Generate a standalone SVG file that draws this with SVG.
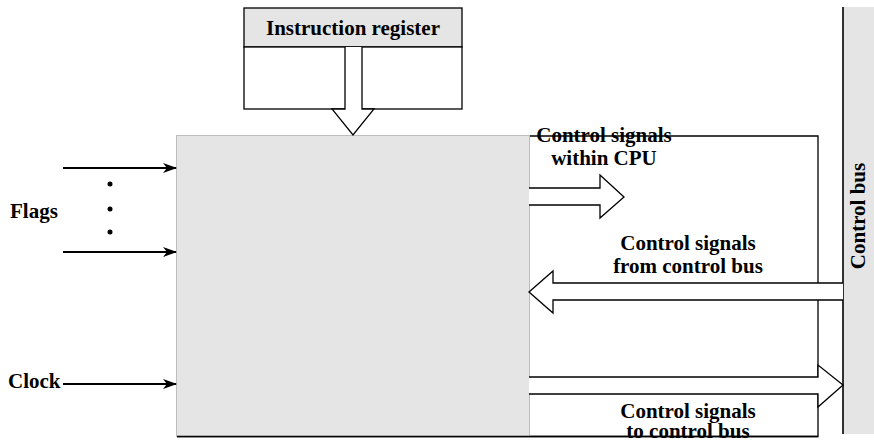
<svg xmlns="http://www.w3.org/2000/svg" width="874" height="441" viewBox="0 0 874 441">
<style>
.t{font-family:"Liberation Serif","Times New Roman",serif;font-weight:bold;font-size:21px;fill:#000}
.ln{stroke:#000;stroke-width:1.3;fill:none}
.fat{stroke:#000;stroke-width:1.3;fill:#fff}
.thin{stroke:#000;stroke-width:2.2;fill:none}
</style>
<defs>
<marker id="ah" markerWidth="14" markerHeight="10" refX="13" refY="5" orient="auto" markerUnits="userSpaceOnUse">
<path d="M0,0 L14,5 L0,10 L4,5 Z" fill="#000"/>
</marker>
</defs>
<g id="outline">
<path class="ln" d="M529,136 H818 V436.5 H177"/>
</g>
<g id="control-unit">
<rect x="176.5" y="135.5" width="353" height="301" fill="#e5e5e5" stroke="#bdbdbd" stroke-width="1"/>
<line x1="177" y1="436.5" x2="818" y2="436.5" stroke="#000" stroke-width="1.3"/>
</g>
<g id="instruction-register">
<rect x="244" y="8" width="218" height="39" fill="#e5e5e5" stroke="#000" stroke-width="1.3"/>
<rect x="244" y="47" width="218" height="62" fill="#fff" stroke="#000" stroke-width="1.3"/>
<text class="t" x="353" y="35" text-anchor="middle">Instruction register</text>
</g>
<g id="control-bus">
<rect x="843" y="7" width="31" height="427" fill="#e5e5e5"/>
<line x1="843" y1="7" x2="843" y2="434" stroke="#000" stroke-width="1.6"/>
<text class="t" transform="translate(865,216) rotate(-90)" text-anchor="middle">Control bus</text>
</g>
<g id="connectors">
<path class="fat" d="M345,47 V109 H332 L353,135 L374,109 H362 V47"/>
<path class="fat" d="M529,188 H600 V175 L624,197 L600,218 V205 H529"/>
<path class="fat" d="M843,283 H553 V271 L529,292 L553,313 V300 H843"/>
<path class="fat" d="M529,377 H818 V365 L843,385 L818,407 V394 H529"/>
<line class="thin" x1="63" y1="168" x2="176" y2="168" marker-end="url(#ah)"/>
<line class="thin" x1="63" y1="252" x2="176" y2="252" marker-end="url(#ah)"/>
<line class="thin" x1="63" y1="384" x2="176" y2="384" marker-end="url(#ah)"/>
<circle cx="110" cy="184" r="2.5" fill="#000"/>
<circle cx="110" cy="209" r="2.5" fill="#000"/>
<circle cx="110" cy="232" r="2.5" fill="#000"/>
</g>
<g id="labels">
<text class="t" x="10" y="218">Flags</text>
<text class="t" x="8" y="388">Clock</text>
<text class="t" x="604" y="142" text-anchor="middle">Control signals</text>
<text class="t" x="604" y="165" text-anchor="middle">within CPU</text>
<text class="t" x="688" y="250" text-anchor="middle">Control signals</text>
<text class="t" x="688" y="273" text-anchor="middle">from control bus</text>
<text class="t" x="688" y="418" text-anchor="middle">Control signals</text>
<text class="t" x="688" y="438" text-anchor="middle">to control bus</text>
</g>
</svg>
